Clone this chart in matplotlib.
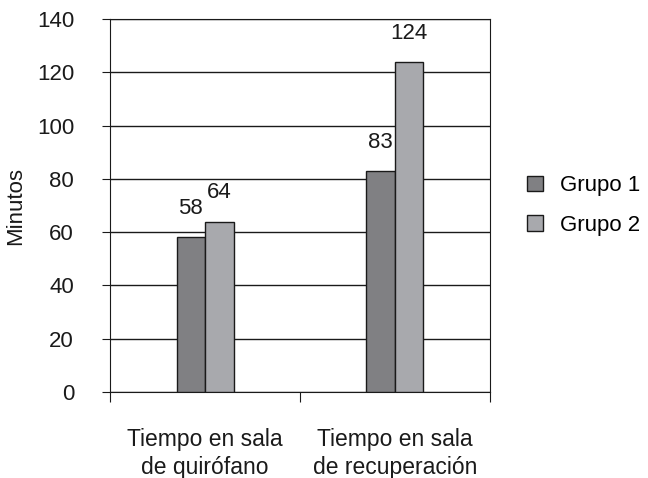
import numpy as np
import matplotlib.pyplot as plt

plt.rcParams['font.family'] = ['Liberation Sans', 'DejaVu Sans']

categories = ['Tiempo en sala\nde quirófano', 'Tiempo en sala\nde recuperación']
grupo1 = [58, 83]
grupo2 = [64, 124]
series_names = ['Grupo 1', 'Grupo 2']

fig = plt.figure(figsize=(6.48, 4.78), dpi=100)
ax = fig.add_axes([0.170, 0.180, 0.586, 0.780])

x = np.arange(len(categories))
w = 0.15
b1 = ax.bar(x - w/2, grupo1, w, color='#808083', edgecolor='#1a1a1a', linewidth=1, label=series_names[0], zorder=3)
b2 = ax.bar(x + w/2, grupo2, w, color='#a8a9ad', edgecolor='#1a1a1a', linewidth=1, label=series_names[1], zorder=3)

# value labels above the bars
for bars, vals in [(b1, grupo1), (b2, grupo2)]:
    for rect, v in zip(bars, vals):
        ax.annotate(str(v), (rect.get_x() + rect.get_width()/2, v), xytext=(0, 13),
                    textcoords='offset points', ha='center', va='bottom', fontsize=16, color='#1a1a1a')

ax.set_xlim(-0.5, 1.5)
ax.set_ylim(0, 140)
ax.set_yticks(range(0, 141, 20))
ax.yaxis.grid(True, color='#1a1a1a', linewidth=1, zorder=0)
ax.set_xticks([-0.5, 0.5, 1.5])
ax.set_xticklabels([])
ax.set_xticks(x, minor=True)
ax.set_xticklabels(categories, minor=True, fontsize=16.5, color='#1a1a1a', linespacing=1.25)
ax.tick_params(axis='x', which='minor', length=0, pad=26)
ax.tick_params(axis='x', which='major', direction='out', length=7, color='#1a1a1a')
ax.tick_params(axis='y', direction='out', length=6, labelsize=16, colors='#1a1a1a', pad=20)
for s in ax.spines.values():
    s.set_color('#1a1a1a')
ax.set_ylabel('Minutos', fontsize=16, color='#1a1a1a', labelpad=8)

ax.legend(loc='center left', bbox_to_anchor=(1.045, 0.50), frameon=False, fontsize=16,
          handlelength=0.7, handleheight=0.7, handletextpad=0.8, labelspacing=0.85)

plt.savefig('out.png', dpi=100)
